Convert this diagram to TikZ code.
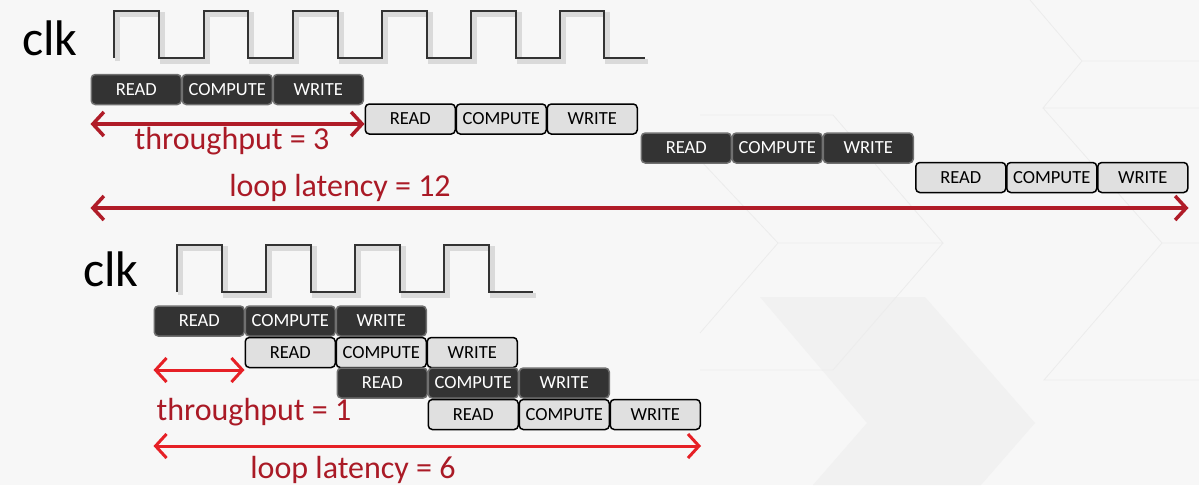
\documentclass[tikz,border=0pt]{standalone}
\usepackage{fontspec}
\setmainfont{Carlito}
\usetikzlibrary{arrows.meta}
\definecolor{bg}{HTML}{F7F7F7}
\definecolor{bgline}{HTML}{ECECEC}
\definecolor{chev}{HTML}{F1F1F1}
\definecolor{darkbox}{HTML}{333333}
\definecolor{darkedge}{HTML}{707070}
\definecolor{lightbox}{HTML}{E0E0E0}
\definecolor{darkred}{RGB}{176,28,40}
\definecolor{brightred}{RGB}{230,32,38}
\definecolor{textred}{RGB}{170,26,38}
\definecolor{clkc}{HTML}{333333}
\definecolor{clkshadow}{HTML}{DADADA}
\tikzset{
  stagebox/.style={minimum width=90pt, minimum height=30pt, inner sep=0pt, rounded corners=4pt, font=\fontsize{18.5}{18.5}\selectfont, anchor=west},
  darkstage/.style={stagebox, fill=darkbox, draw=darkedge, line width=1.5pt, text=white},
  lightstage/.style={stagebox, fill=lightbox, draw=black, line width=1.5pt, text=black},
  clkwave/.style={draw=clkc, line width=2.5pt, line join=miter},
  clkshade/.style={draw=clkshadow, line width=5pt},
  clklabel/.style={font=\fontsize{50}{50}\selectfont, anchor=base},
  redlabel/.style={font=\fontsize{32}{32}\selectfont, text=textred, anchor=base},
  toparrow/.style={draw=darkred, line width=3.5pt, {Straight Barb[length=11pt,width=24pt,line width=3.5pt]}-{Straight Barb[length=11pt,width=24pt,line width=3.5pt]}},
  botarrow/.style={draw=brightred, line width=3pt, {Straight Barb[length=11pt,width=24pt,line width=3pt]}-{Straight Barb[length=11pt,width=24pt,line width=3pt]}}
}
\begin{document}
\begin{tikzpicture}[x=1pt,y=-1pt]
\useasboundingbox (0,0) rectangle (1199,485);
\fill[bg] (0,0) rectangle (1199,485);
% background decoration
\fill[chev] (760,297) -- (925,297) -- (1035,423) -- (981,485) -- (813,485) -- (867,423) -- cycle;
\draw[bgline, line width=0.8pt]
  (1030,0) -- (1082,61) -- (1199,61)
  (1082,61) -- (1043,108) -- (1199,108)
  (1043,108) -- (1162,243) -- (1199,243)
  (1162,243) -- (1044,380) -- (1199,380)
  (700,115) -- (833,115) -- (943,243) -- (778,243) -- (700,160)
  (778,243) -- (700,333)
  (943,243) -- (833,370) -- (700,370);

% ---------------- top section ----------------
\node[clklabel] (clkA) at (50,55) {clk};
\def\ya{58}\def\yb{11}
\draw[clkshade, xshift=3pt, yshift=-3pt]
  (114,\ya) -- (114,\yb) -- (159,\yb) -- (159,\ya) -- (204,\ya) -- (204,\yb) -- (248,\yb) -- (248,\ya)
  -- (293,\ya) -- (293,\yb) -- (338,\yb) -- (338,\ya) -- (382,\ya) -- (382,\yb) -- (427,\yb) -- (427,\ya)
  -- (471,\ya) -- (471,\yb) -- (516,\yb) -- (516,\ya) -- (560,\ya) -- (560,\yb) -- (604,\yb) -- (604,\ya) -- (645,\ya);
\draw[clkwave]
  (114,\ya) -- (114,\yb) -- (159,\yb) -- (159,\ya) -- (204,\ya) -- (204,\yb) -- (248,\yb) -- (248,\ya)
  -- (293,\ya) -- (293,\yb) -- (338,\yb) -- (338,\ya) -- (382,\ya) -- (382,\yb) -- (427,\yb) -- (427,\ya)
  -- (471,\ya) -- (471,\yb) -- (516,\yb) -- (516,\ya) -- (560,\ya) -- (560,\yb) -- (604,\yb) -- (604,\ya) -- (645,\ya);

\node[darkstage] (t1r) at (90.5,89.5) {READ};
\node[darkstage] (t1c) at (181.5,89.5) {COMPUTE};
\node[darkstage] (t1w) at (272.5,89.5) {WRITE};

\node[lightstage] (t2r) at (364.5,119) {READ};
\node[lightstage] (t2c) at (455.5,119) {COMPUTE};
\node[lightstage] (t2w) at (546.5,119) {WRITE};

\node[darkstage] (t3r) at (640.5,148) {READ};
\node[darkstage] (t3c) at (731.5,148) {COMPUTE};
\node[darkstage] (t3w) at (822.5,148) {WRITE};

\node[lightstage] (t4r) at (915,177.5) {READ};
\node[lightstage] (t4c) at (1006,177.5) {COMPUTE};
\node[lightstage] (t4w) at (1097,177.5) {WRITE};

\coordinate (tpA1) at (t1r.west |- 0,124);
\coordinate (tpA2) at (t2r.west |- 0,124);
\draw[toparrow] (tpA1) -- (tpA2);
\node[redlabel] (tpA) at (232,149) {throughput = 3};

\coordinate (llA1) at (t1r.west |- 0,208);
\coordinate (llA2) at (t4w.east |- 0,208);
\draw[toparrow] (llA1) -- (llA2);
\node[redlabel] (llA) at (340,196) {loop latency = 12};

% ---------------- bottom section ----------------
\node[clklabel] (clkB) at (111,286) {clk};
\def\yc{292}\def\yd{245}
\draw[clkshade, xshift=3pt, yshift=-3pt]
  (177,\yc) -- (177,\yd) -- (222,\yd) -- (222,\yc) -- (266,\yc) -- (266,\yd) -- (311,\yd) -- (311,\yc)
  -- (355,\yc) -- (355,\yd) -- (400,\yd) -- (400,\yc) -- (444,\yc) -- (444,\yd) -- (489,\yd) -- (489,\yc) -- (533,\yc);
\draw[clkwave]
  (177,\yc) -- (177,\yd) -- (222,\yd) -- (222,\yc) -- (266,\yc) -- (266,\yd) -- (311,\yd) -- (311,\yc)
  -- (355,\yc) -- (355,\yd) -- (400,\yd) -- (400,\yc) -- (444,\yc) -- (444,\yd) -- (489,\yd) -- (489,\yc) -- (533,\yc);

\node[darkstage] (b1r) at (153.5,321) {READ};
\node[darkstage] (b1c) at (244.5,321) {COMPUTE};
\node[darkstage] (b1w) at (335.5,321) {WRITE};

\node[lightstage] (b2r) at (244.5,352.5) {READ};
\node[lightstage] (b2c) at (335.5,352.5) {COMPUTE};
\node[lightstage] (b2w) at (426.5,352.5) {WRITE};

\node[darkstage] (b3r) at (336.5,383) {READ};
\node[darkstage] (b3c) at (427.5,383) {COMPUTE};
\node[darkstage] (b3w) at (518.5,383) {WRITE};

\node[lightstage] (b4r) at (427.5,414.5) {READ};
\node[lightstage] (b4c) at (518.5,414.5) {COMPUTE};
\node[lightstage] (b4w) at (609.5,414.5) {WRITE};

\coordinate (tpB1) at (b1r.west |- 0,370);
\coordinate (tpB2) at (b2r.west |- 0,370);
\draw[botarrow] (tpB1) -- (tpB2);
\node[redlabel] (tpB) at (254,420) {throughput = 1};

\coordinate (llB1) at (b1r.west |- 0,446);
\coordinate (llB2) at (b4w.east |- 0,446);
\draw[botarrow] (llB1) -- (llB2);
\node[redlabel] (llB) at (353,478) {loop latency = 6};
\end{tikzpicture}
\end{document}
